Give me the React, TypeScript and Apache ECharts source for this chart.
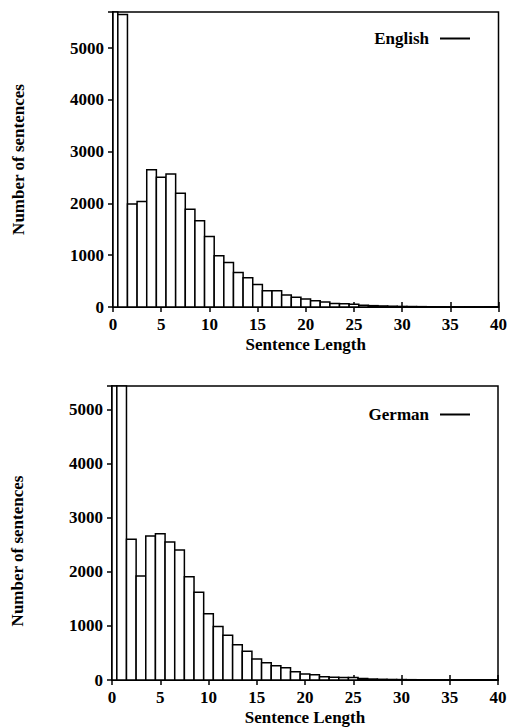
import React, { useEffect, useRef } from "react";
import * as echarts from "echarts";

const sentenceLengths = [
  0, 1, 2, 3, 4, 5, 6, 7, 8, 9, 10, 11, 12, 13, 14, 15, 16, 17, 18, 19, 20,
  21, 22, 23, 24, 25, 26, 27, 28, 29, 30, 31, 32, 33, 34, 35, 36, 37, 38, 39, 40,
];

const englishCounts = [
  5900, 5650, 1990, 2040, 2650, 2505, 2570, 2200, 1890, 1665, 1360, 990, 860,
  665, 565, 437, 315, 315, 233, 188, 155, 123, 97, 68, 65, 52, 35, 26, 20, 15,
  11, 9, 7, 5, 4, 3, 2, 1, 1, 0, 0,
];

const germanCounts = [
  5900, 5900, 2600, 1920, 2660, 2700, 2550, 2400, 1905, 1620, 1222, 990, 826,
  650, 530, 390, 320, 263, 226, 153, 112, 98, 62, 50, 48, 44, 30, 18, 13, 10,
  8, 6, 5, 4, 3, 2, 1, 0, 0, 0, 0,
];

const xMin = 0;
const xMax = 40;
const xInterval = 5;
const yInterval = 1000;
const englishYMax = 5700;
const germanYMax = 5430;

const FONT = "Liberation Serif";
const textBase = { fontFamily: FONT, fontWeight: "bold" as const, fontSize: 17, color: "#000" };

const renderBar = (params: any, api: any) => {
  const x = api.value(0);
  const v = api.value(1);
  const tl = api.coord([x - 0.5, v]);
  const br = api.coord([x + 0.5, 0]);
  const cs = params.coordSys;
  const shape = echarts.graphic.clipRectByRect(
    { x: tl[0], y: tl[1], width: br[0] - tl[0], height: br[1] - tl[1] },
    { x: cs.x, y: cs.y, width: cs.width, height: cs.height }
  );
  if (!shape) return null;
  return {
    type: "rect",
    shape,
    style: { fill: "#fff", stroke: "#000", lineWidth: 1.5 },
  };
};

function buildAxes(gridIndex: number, yMax: number, namePad: number[]) {
  const tick = { show: true, inside: true, length: 5, lineStyle: { color: "#000", width: 1.5 } };
  const line = { show: true, lineStyle: { color: "#000", width: 1.5 } };
  const plain = (v: number) => String(v);
  const xAxes = [
    {
      type: "value",
      gridIndex,
      min: xMin,
      max: xMax,
      interval: xInterval,
      position: "bottom",
      axisLine: line,
      axisTick: tick,
      splitLine: { show: false },
      axisLabel: { ...textBase, margin: 9, formatter: plain },
      name: "Sentence Length",
      nameLocation: "middle",
      nameGap: 29,
      nameTextStyle: { ...textBase },
    },
    {
      type: "value",
      gridIndex,
      min: xMin,
      max: xMax,
      interval: xInterval,
      position: "top",
      axisLine: line,
      axisTick: tick,
      splitLine: { show: false },
      axisLabel: { show: false },
    },
  ];
  const yAxes = [
    {
      type: "value",
      gridIndex,
      min: 0,
      max: yMax,
      interval: yInterval,
      position: "left",
      axisLine: line,
      axisTick: tick,
      splitLine: { show: false },
      axisLabel: { ...textBase, margin: 9, showMaxLabel: false, formatter: plain },
      name: "Number of sentences",
      nameLocation: "middle",
      nameGap: 86,
      nameRotate: 90,
      nameTextStyle: { ...textBase, padding: namePad },
    },
    {
      type: "value",
      gridIndex,
      min: 0,
      max: yMax,
      interval: yInterval,
      position: "right",
      axisLine: line,
      axisTick: tick,
      splitLine: { show: false },
      axisLabel: { show: false },
    },
  ];
  return { xAxes, yAxes };
}

export default function App() {
  const ref = useRef<HTMLDivElement>(null);

  useEffect(() => {
    if (!ref.current) return;
    const chart = echarts.init(ref.current, undefined, { renderer: "svg" });
    const a0 = buildAxes(0, englishYMax, [0, 0, 0, 0]);
    const a1 = buildAxes(1, germanYMax, [0, 36, 0, 0]);

    const legendCommon = {
      orient: "horizontal",
      align: "right",
      right: 35,
      itemWidth: 30,
      itemHeight: 2,
      selectedMode: false,
      textStyle: { ...textBase, padding: [0, 6, 0, 0] },
    };

    chart.setOption({
      animation: false,
      backgroundColor: "#fff",
      grid: [
        { left: 113, top: 12, width: 386, height: 295, show: true, borderColor: "#000", borderWidth: 1.5 },
        { left: 112, top: 386, width: 386, height: 296, show: true, borderColor: "#000", borderWidth: 1.5 },
      ],
      legend: [
        {
          ...legendCommon,
          top: 25,
          data: [{ name: "English", icon: "rect", itemStyle: { color: "#000", borderWidth: 0 } }],
        },
        {
          ...legendCommon,
          top: 401,
          data: [{ name: "German", icon: "rect", itemStyle: { color: "#000", borderWidth: 0 } }],
        },
      ],
      xAxis: [...a0.xAxes, ...a1.xAxes],
      yAxis: [...a0.yAxes, ...a1.yAxes],
      series: [
        {
          name: "English",
          type: "custom",
          xAxisIndex: 0,
          yAxisIndex: 0,
          renderItem: renderBar,
          encode: { x: 0, y: 1 },
          itemStyle: { color: "#000" },
          data: sentenceLengths.map((l, i) => [l, englishCounts[i]]),
        },
        {
          name: "German",
          type: "custom",
          xAxisIndex: 2,
          yAxisIndex: 2,
          renderItem: renderBar,
          encode: { x: 0, y: 1 },
          itemStyle: { color: "#000" },
          data: sentenceLengths.map((l, i) => [l, germanCounts[i]]),
        },
      ],
    });
    return () => chart.dispose();
  }, []);

  return (
    <div
      ref={ref}
      style={{ position: "absolute", left: 0, top: 0, width: 510, height: 727, background: "#fff" }}
    />
  );
}
